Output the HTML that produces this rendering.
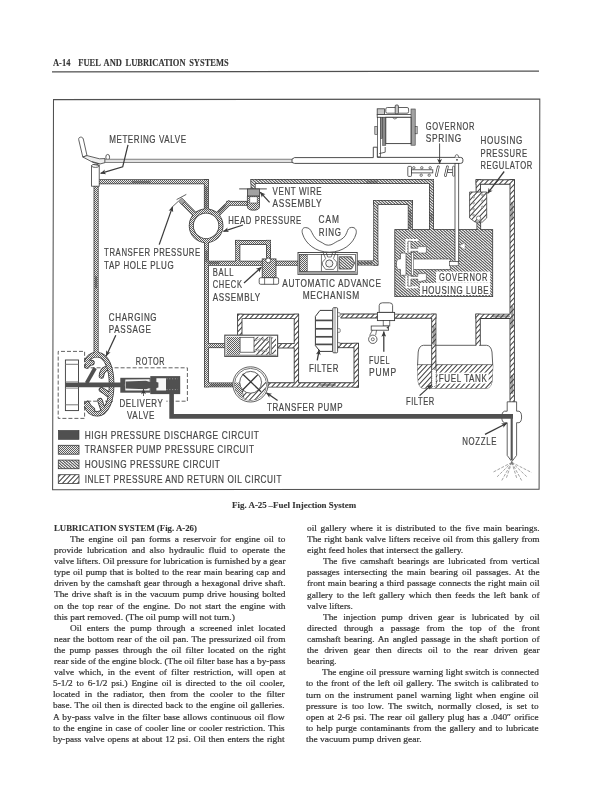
<!DOCTYPE html>
<html lang="en"><head><meta charset="utf-8">
<title>A-14 Fuel and Lubrication Systems</title>
<style>
html,body{margin:0;padding:0;background:#fff;}
body{width:612px;height:792px;position:relative;overflow:hidden;filter:grayscale(1);font-family:"Liberation Serif",serif;color:#343434;}
.t{position:absolute;white-space:pre;-webkit-text-stroke:0.22px #383838;font-size:8.9px;line-height:10px;height:10px;transform-origin:0 50%;}
.j{text-align:justify;text-align-last:justify;white-space:normal;word-spacing:-0.6px;overflow:visible;}
.b{font-weight:bold;-webkit-text-stroke:0.1px #333;}
svg{position:absolute;left:0;top:0;}
svg text{font-family:"Liberation Sans",sans-serif;fill:#464646;stroke:#464646;stroke-width:0.22px;}
</style></head>
<body>
<svg width="612" height="792" viewBox="0 0 612 792">
<defs>
<pattern id="pT" width="2" height="2" patternUnits="userSpaceOnUse"><rect width="2" height="2" fill="#ececec"/><rect x="0" y="0" width="1" height="1" fill="#5e5e5e"/><rect x="1" y="1" width="1" height="1" fill="#5e5e5e"/></pattern>
<pattern id="pH" width="35" height="14" patternUnits="userSpaceOnUse"><rect width="35" height="14" fill="#eeeeee"/><path d="M1,0h1v1h-1zM4,0h1v1h-1zM7,0h1v1h-1zM10,0h1v1h-1zM17,0h1v1h-1zM20,0h1v1h-1zM23,0h1v1h-1zM26,0h1v1h-1zM29,0h1v1h-1zM2,1h1v1h-1zM5,1h1v1h-1zM8,1h1v1h-1zM11,1h1v1h-1zM15,1h1v1h-1zM18,1h1v1h-1zM21,1h1v1h-1zM24,1h1v1h-1zM27,1h1v1h-1zM34,1h1v1h-1zM0,2h1v1h-1zM3,2h1v1h-1zM6,2h1v1h-1zM9,2h1v1h-1zM16,2h1v1h-1zM19,2h1v1h-1zM22,2h1v1h-1zM25,2h1v1h-1zM32,2h1v1h-1zM1,3h1v1h-1zM4,3h1v1h-1zM7,3h1v1h-1zM14,3h1v1h-1zM17,3h1v1h-1zM20,3h1v1h-1zM23,3h1v1h-1zM26,3h1v1h-1zM30,3h1v1h-1zM33,3h1v1h-1zM2,4h1v1h-1zM5,4h1v1h-1zM12,4h1v1h-1zM15,4h1v1h-1zM18,4h1v1h-1zM21,4h1v1h-1zM24,4h1v1h-1zM31,4h1v1h-1zM34,4h1v1h-1zM0,5h1v1h-1zM3,5h1v1h-1zM6,5h1v1h-1zM10,5h1v1h-1zM13,5h1v1h-1zM16,5h1v1h-1zM19,5h1v1h-1zM22,5h1v1h-1zM29,5h1v1h-1zM32,5h1v1h-1zM1,6h1v1h-1zM4,6h1v1h-1zM11,6h1v1h-1zM14,6h1v1h-1zM17,6h1v1h-1zM20,6h1v1h-1zM27,6h1v1h-1zM30,6h1v1h-1zM33,6h1v1h-1zM2,7h1v1h-1zM9,7h1v1h-1zM12,7h1v1h-1zM15,7h1v1h-1zM18,7h1v1h-1zM21,7h1v1h-1zM25,7h1v1h-1zM28,7h1v1h-1zM31,7h1v1h-1zM34,7h1v1h-1zM0,8h1v1h-1zM7,8h1v1h-1zM10,8h1v1h-1zM13,8h1v1h-1zM16,8h1v1h-1zM19,8h1v1h-1zM26,8h1v1h-1zM29,8h1v1h-1zM32,8h1v1h-1zM1,9h1v1h-1zM5,9h1v1h-1zM8,9h1v1h-1zM11,9h1v1h-1zM14,9h1v1h-1zM17,9h1v1h-1zM24,9h1v1h-1zM27,9h1v1h-1zM30,9h1v1h-1zM33,9h1v1h-1zM6,10h1v1h-1zM9,10h1v1h-1zM12,10h1v1h-1zM15,10h1v1h-1zM22,10h1v1h-1zM25,10h1v1h-1zM28,10h1v1h-1zM31,10h1v1h-1zM34,10h1v1h-1zM4,11h1v1h-1zM7,11h1v1h-1zM10,11h1v1h-1zM13,11h1v1h-1zM16,11h1v1h-1zM20,11h1v1h-1zM23,11h1v1h-1zM26,11h1v1h-1zM29,11h1v1h-1zM32,11h1v1h-1zM2,12h1v1h-1zM5,12h1v1h-1zM8,12h1v1h-1zM11,12h1v1h-1zM14,12h1v1h-1zM21,12h1v1h-1zM24,12h1v1h-1zM27,12h1v1h-1zM30,12h1v1h-1zM0,13h1v1h-1zM3,13h1v1h-1zM6,13h1v1h-1zM9,13h1v1h-1zM12,13h1v1h-1zM19,13h1v1h-1zM22,13h1v1h-1zM25,13h1v1h-1zM28,13h1v1h-1zM31,13h1v1h-1z" fill="#616161"/><path d="M13,0h1v1h-1zM14,0h1v1h-1zM16,0h1v1h-1zM30,0h1v1h-1zM32,0h1v1h-1zM33,0h1v1h-1zM12,1h1v1h-1zM14,1h1v1h-1zM28,1h1v1h-1zM30,1h1v1h-1zM31,1h1v1h-1zM10,2h1v1h-1zM12,2h1v1h-1zM13,2h1v1h-1zM28,2h1v1h-1zM29,2h1v1h-1zM31,2h1v1h-1zM8,3h1v1h-1zM10,3h1v1h-1zM11,3h1v1h-1zM27,3h1v1h-1zM29,3h1v1h-1zM8,4h1v1h-1zM9,4h1v1h-1zM11,4h1v1h-1zM25,4h1v1h-1zM27,4h1v1h-1zM28,4h1v1h-1zM7,5h1v1h-1zM9,5h1v1h-1zM23,5h1v1h-1zM25,5h1v1h-1zM26,5h1v1h-1zM5,6h1v1h-1zM7,6h1v1h-1zM8,6h1v1h-1zM23,6h1v1h-1zM24,6h1v1h-1zM26,6h1v1h-1zM3,7h1v1h-1zM5,7h1v1h-1zM6,7h1v1h-1zM22,7h1v1h-1zM24,7h1v1h-1zM3,8h1v1h-1zM4,8h1v1h-1zM6,8h1v1h-1zM20,8h1v1h-1zM22,8h1v1h-1zM23,8h1v1h-1zM2,9h1v1h-1zM4,9h1v1h-1zM18,9h1v1h-1zM20,9h1v1h-1zM21,9h1v1h-1zM0,10h1v1h-1zM2,10h1v1h-1zM3,10h1v1h-1zM18,10h1v1h-1zM19,10h1v1h-1zM21,10h1v1h-1zM0,11h1v1h-1zM1,11h1v1h-1zM17,11h1v1h-1zM19,11h1v1h-1zM33,11h1v1h-1zM1,12h1v1h-1zM15,12h1v1h-1zM17,12h1v1h-1zM18,12h1v1h-1zM33,12h1v1h-1zM34,12h1v1h-1zM13,13h1v1h-1zM15,13h1v1h-1zM16,13h1v1h-1zM32,13h1v1h-1zM34,13h1v1h-1z" fill="#848484"/><path d="M0,0h1v1h-1zM11,0h1v1h-1zM19,0h1v1h-1zM27,0h1v1h-1zM1,1h1v1h-1zM9,1h1v1h-1zM17,1h1v1h-1zM25,1h1v1h-1zM33,1h1v1h-1zM7,2h1v1h-1zM15,2h1v1h-1zM26,2h1v1h-1zM34,2h1v1h-1zM5,3h1v1h-1zM13,3h1v1h-1zM16,3h1v1h-1zM24,3h1v1h-1zM32,3h1v1h-1zM6,4h1v1h-1zM14,4h1v1h-1zM22,4h1v1h-1zM30,4h1v1h-1zM4,5h1v1h-1zM12,5h1v1h-1zM20,5h1v1h-1zM28,5h1v1h-1zM31,5h1v1h-1zM2,6h1v1h-1zM10,6h1v1h-1zM21,6h1v1h-1zM29,6h1v1h-1zM0,7h1v1h-1zM8,7h1v1h-1zM11,7h1v1h-1zM19,7h1v1h-1zM27,7h1v1h-1zM1,8h1v1h-1zM9,8h1v1h-1zM17,8h1v1h-1zM25,8h1v1h-1zM7,9h1v1h-1zM15,9h1v1h-1zM23,9h1v1h-1zM26,9h1v1h-1zM34,9h1v1h-1zM5,10h1v1h-1zM16,10h1v1h-1zM24,10h1v1h-1zM32,10h1v1h-1zM3,11h1v1h-1zM6,11h1v1h-1zM14,11h1v1h-1zM22,11h1v1h-1zM30,11h1v1h-1zM4,12h1v1h-1zM12,12h1v1h-1zM20,12h1v1h-1zM31,12h1v1h-1zM2,13h1v1h-1zM10,13h1v1h-1zM18,13h1v1h-1zM21,13h1v1h-1zM29,13h1v1h-1z" fill="#a7a7a7"/><path d="M3,0h1v1h-1zM5,0h1v1h-1zM6,0h1v1h-1zM8,0h1v1h-1zM21,0h1v1h-1zM22,0h1v1h-1zM24,0h1v1h-1zM25,0h1v1h-1zM3,1h1v1h-1zM4,1h1v1h-1zM6,1h1v1h-1zM19,1h1v1h-1zM20,1h1v1h-1zM22,1h1v1h-1zM23,1h1v1h-1zM1,2h1v1h-1zM2,2h1v1h-1zM4,2h1v1h-1zM5,2h1v1h-1zM18,2h1v1h-1zM20,2h1v1h-1zM21,2h1v1h-1zM23,2h1v1h-1zM0,3h1v1h-1zM2,3h1v1h-1zM3,3h1v1h-1zM18,3h1v1h-1zM19,3h1v1h-1zM21,3h1v1h-1zM34,3h1v1h-1zM0,4h1v1h-1zM1,4h1v1h-1zM3,4h1v1h-1zM16,4h1v1h-1zM17,4h1v1h-1zM19,4h1v1h-1zM20,4h1v1h-1zM33,4h1v1h-1zM1,5h1v1h-1zM14,5h1v1h-1zM15,5h1v1h-1zM17,5h1v1h-1zM18,5h1v1h-1zM33,5h1v1h-1zM34,5h1v1h-1zM0,6h1v1h-1zM13,6h1v1h-1zM15,6h1v1h-1zM16,6h1v1h-1zM18,6h1v1h-1zM31,6h1v1h-1zM32,6h1v1h-1zM34,6h1v1h-1zM13,7h1v1h-1zM14,7h1v1h-1zM16,7h1v1h-1zM29,7h1v1h-1zM30,7h1v1h-1zM32,7h1v1h-1zM33,7h1v1h-1zM11,8h1v1h-1zM12,8h1v1h-1zM14,8h1v1h-1zM15,8h1v1h-1zM28,8h1v1h-1zM30,8h1v1h-1zM31,8h1v1h-1zM33,8h1v1h-1zM9,9h1v1h-1zM10,9h1v1h-1zM12,9h1v1h-1zM13,9h1v1h-1zM28,9h1v1h-1zM29,9h1v1h-1zM31,9h1v1h-1zM8,10h1v1h-1zM10,10h1v1h-1zM11,10h1v1h-1zM13,10h1v1h-1zM26,10h1v1h-1zM27,10h1v1h-1zM29,10h1v1h-1zM30,10h1v1h-1zM8,11h1v1h-1zM9,11h1v1h-1zM11,11h1v1h-1zM24,11h1v1h-1zM25,11h1v1h-1zM27,11h1v1h-1zM28,11h1v1h-1zM6,12h1v1h-1zM7,12h1v1h-1zM9,12h1v1h-1zM10,12h1v1h-1zM23,12h1v1h-1zM25,12h1v1h-1zM26,12h1v1h-1zM28,12h1v1h-1zM4,13h1v1h-1zM5,13h1v1h-1zM7,13h1v1h-1zM8,13h1v1h-1zM23,13h1v1h-1zM24,13h1v1h-1zM26,13h1v1h-1z" fill="#cacaca"/></pattern>
<pattern id="pI" width="25" height="27" patternUnits="userSpaceOnUse"><rect width="25" height="27" fill="#fff"/><path d="M-30,32.4 L5,-5.4 M-25,32.4 L10,-5.4 M-20,32.4 L15,-5.4 M-15,32.4 L20,-5.4 M-10,32.4 L25,-5.4 M-5,32.4 L30,-5.4 M0,32.4 L35,-5.4 M5,32.4 L40,-5.4 M10,32.4 L45,-5.4 M15,32.4 L50,-5.4 M20,32.4 L55,-5.4 M25,32.4 L60,-5.4 M30,32.4 L65,-5.4" stroke="#444" stroke-width="1.05" fill="none"/></pattern>
<marker id="ah" viewBox="0 0 10 10" refX="9.5" refY="5" markerWidth="7" markerHeight="5.4" orient="auto" markerUnits="userSpaceOnUse"><path d="M0,0.5 L10,5 L0,9.5 L2.5,5 Z" fill="#3a3a3a"/></marker>
</defs>
<g id="bg">
<path d="M52,71.9 L539,71.1" stroke="#505050" stroke-width="1.2" fill="none"/>
<path d="M53.5,99.6 L539.8,99.1 L539.1,489.2 L52.6,489.7 Z" fill="none" stroke="#505050" stroke-width="1.05"/>
</g>
<g id="block">
<rect x="394.8" y="229.6" width="97.9" height="67" fill="url(#pH)" stroke="#3a3a3a" stroke-width="0.8" />
<path d="M400.5,253.1 L406,253.1 L406,275.3 L400.5,275.3 L400.5,269.4 L397.6,269.4 L396.5,266 L396.5,262 L397.6,259 L400.5,259 Z" fill="#fff" stroke="#3a3a3a" stroke-width="0.6" />
<rect x="412.2" y="259" width="38" height="10.4" fill="#fff" stroke="#3a3a3a" stroke-width="0.6" />
<rect x="411.4" y="252.6" width="2.2" height="22.7" fill="#fff" stroke="#3a3a3a" stroke-width="0.5" />
<path d="M418.2,240 L406.4,240 L406.4,253" fill="none" stroke="#fff" stroke-width="2" />
<path d="M408.1,241.2 L410.9,241.2 L410.9,248.3 L417.8,248.3 L417.8,246.6 L426.4,246.6 L426.4,253 L417.8,253 L417.8,251.3 L410.9,251.3 L410.9,253.1 L408.1,253.1 Z" fill="#fff" stroke="#3a3a3a" stroke-width="0.5" />
<path d="M418.2,287.2 L406.4,287.2 L406.4,275.4" fill="none" stroke="#fff" stroke-width="2" />
<path d="M408.1,286.2 L410.9,286.2 L410.9,279.1 L417.8,279.1 L417.8,281.8 L426.4,280.2 L426.4,273.6 L417.8,273.6 L417.8,276.4 L410.9,276.4 L410.9,275.3 L408.1,275.3 Z" fill="#fff" stroke="#3a3a3a" stroke-width="0.5" />
<rect x="436" y="271.6" width="54.2" height="11.2" fill="#fff" stroke="#3a3a3a" stroke-width="0" />
<rect x="420" y="283" width="70.2" height="12" fill="#fff" stroke="#3a3a3a" stroke-width="0" />
<path d="M423.5,345.3 L486.5,345.3 Q491,345.6 492,352 Q493.6,366 492,381.5 Q491,388 486.5,388.2 L423.5,388.2 Q419,388 418.2,381.5 Q416.8,366 418.2,352 Q419,345.6 423.5,345.3 Z" fill="#fff" stroke="#3a3a3a" stroke-width="0.8" />
<clipPath id="cpF"><path d="M423.5,345.3 L486.5,345.3 Q491,345.6 492,352 Q493.6,366 492,381.5 Q491,388 486.5,388.2 L423.5,388.2 Q419,388 418.2,381.5 Q416.8,366 418.2,352 Q419,345.6 423.5,345.3 Z"/></clipPath>
<g clip-path="url(#cpF)"><rect x="417" y="364.6" width="77" height="24" fill="url(#pI)"/></g>
<path d="M417.5,364.6 L493,364.6" fill="none" stroke="#3a3a3a" stroke-width="0.6" />
<rect x="437.5" y="372.6" width="51.1" height="11" fill="#fff" stroke="#3a3a3a" stroke-width="0" />
<rect x="65.4" y="360" width="13.1" height="50.6" fill="#fff" stroke="#3a3a3a" stroke-width="0.9" />
<path d="M65.4,364.3 L78.5,364.3 M65.4,404.8 L78.5,404.8" fill="none" stroke="#777" stroke-width="1" />
<path d="M65.4,381.6 L78.5,381.6 M65.4,388.4 L78.5,388.4" fill="none" stroke="#777" stroke-width="0.6" />
<path d="M84.6,367.8 L84.6,351.4 L58.2,351.4 L58.2,418.4 L84.6,418.4 L84.6,401.2 L113,401.2" fill="none" stroke="#505050" stroke-width="0.9" stroke-dasharray="4 2"/>
<path d="M84.6,367.8 L187.4,367.8 L187.4,401.2 L166.4,401.2" fill="none" stroke="#505050" stroke-width="0.9" stroke-dasharray="4 2"/>
</g>
<g id="pout">
<polygon points="98.6,356 98.6,179.3 93.6,179.3 93.6,356" fill="#3a3a3a"/>
<polygon points="93.6,184.3 208.9,184.3 208.9,179.3 93.6,179.3" fill="#3a3a3a"/>
<polygon points="203.9,179.3 203.9,209.5 208.9,209.5 208.9,179.3" fill="#3a3a3a"/>
<circle cx="206.1" cy="225.8" r="14.85" fill="none" stroke="#3a3a3a" stroke-width="5.0"/>
<polygon points="204.05,241.5 204.05,387.35 208.95,387.35 208.95,241.5" fill="#3a3a3a"/>
<polygon points="204.05,387.35 236.5,387.35 236.5,382.45 204.05,382.45" fill="#3a3a3a"/>
<polygon points="206.5,265.7 262.5,265.7 262.5,260.7 206.5,260.7" fill="#3a3a3a"/>
<polygon points="275.8,265.7 299.2,265.7 299.2,260.7 275.8,260.7" fill="#3a3a3a"/>
<polygon points="240.3,263.2 240.3,239.9 235.3,239.9 235.3,263.2" fill="#3a3a3a"/>
<polygon points="235.3,244.9 271,244.9 271,239.9 235.3,239.9" fill="#3a3a3a"/>
<polygon points="266,239.9 266,258.6 271,258.6 271,239.9" fill="#3a3a3a"/>
<polygon points="206.5,348.1 225,348.1 225,343.1 206.5,343.1" fill="#3a3a3a"/>
<polygon points="197.07,213.03 183.57,199.53 180.03,203.07 193.53,216.57" fill="#3a3a3a"/>
<polygon points="218.88,216.41 232.19,203.33 228.83,199.91 215.52,212.99" fill="#3a3a3a"/>
<polygon points="226.4,205.7 248.2,205.7 248.2,200.9 226.4,200.9" fill="#3a3a3a"/>
<polygon points="255.6,189.2 255.6,179.1 250.6,179.1 250.6,189.2" fill="#3a3a3a"/>
<polygon points="250.6,184.1 434,184.1 434,179.1 250.6,179.1" fill="#3a3a3a"/>
<polygon points="429,179.1 429,230 434,230 434,179.1" fill="#3a3a3a"/>
<polygon points="357,265.5 378.3,265.5 378.3,260.5 357,260.5" fill="#3a3a3a"/>
<polygon points="378.3,265.5 378.3,200.1 373.3,200.1 373.3,265.5" fill="#3a3a3a"/>
<polygon points="373.3,205.1 412.8,205.1 412.8,200.1 373.3,200.1" fill="#3a3a3a"/>
<polygon points="407.8,200.1 407.8,230 412.8,230 412.8,200.1" fill="#3a3a3a"/>
<polygon points="476.5,221.5 476.5,230 481.1,230 481.1,221.5" fill="#3a3a3a"/>
<polygon points="242.45,335.4 242.45,313.75 237.15,313.75 237.15,335.4" fill="#3a3a3a"/>
<polygon points="237.15,319.05 299.05,319.05 299.05,313.75 237.15,313.75" fill="#3a3a3a"/>
<polygon points="293.75,313.75 293.75,384.9 299.05,384.9 299.05,313.75" fill="#3a3a3a"/>
<polygon points="277.5,348.45 296.4,348.45 296.4,343.15 277.5,343.15" fill="#3a3a3a"/>
<polygon points="266,387.55 358.85,387.55 358.85,382.25 266,382.25" fill="#3a3a3a"/>
<polygon points="358.85,387.55 358.85,342.85 353.55,342.85 353.55,387.55" fill="#3a3a3a"/>
<polygon points="358.85,342.85 338,342.85 338,348.15 358.85,348.15" fill="#3a3a3a"/>
<polygon points="340.5,318.45 377.5,318.45 377.5,313.55 340.5,313.55" fill="#3a3a3a"/>
<polygon points="394.5,318.75 436.35,318.75 436.35,313.65 394.5,313.65" fill="#3a3a3a"/>
<polygon points="431.25,313.65 431.25,386 436.35,386 436.35,313.65" fill="#3a3a3a"/>
<polygon points="480.95,192.5 480.95,179.35 475.65,179.35 475.65,192.5" fill="#3a3a3a"/>
<polygon points="475.65,184.65 514.85,184.65 514.85,179.35 475.65,179.35" fill="#3a3a3a"/>
<polygon points="509.55,179.35 509.55,402 514.85,402 514.85,179.35" fill="#3a3a3a"/>
<polygon points="480.75,345.4 480.75,313.65 475.45,313.65 475.45,345.4" fill="#3a3a3a"/>
<polygon points="475.45,318.95 512.2,318.95 512.2,313.65 475.45,313.65" fill="#3a3a3a"/>
<path d="M86.6,362.6 C88.4,356 93,354.6 97.6,354.8 C106.6,355.2 111.6,368.4 111.6,384.4 C111.6,400.4 106.6,413.4 97.6,413.8 C92,414 87.8,410.6 86.6,405.4" fill="none" stroke="#3a3a3a" stroke-width="5.6" stroke-linecap="butt"/>
<path d="M105.4,368.8 C102.8,370.2 101.6,372.8 101.4,376" fill="none" stroke="#3a3a3a" stroke-width="5.4" stroke-linecap="round"/>
<path d="M101.4,389.6 C103.2,390.6 105.6,392 107.6,394" fill="none" stroke="#3a3a3a" stroke-width="5.4" stroke-linecap="round"/>
<path d="M100,400.6 C100.8,403.2 101.8,405.8 102.6,408.4" fill="none" stroke="#3a3a3a" stroke-width="5.4" stroke-linecap="round"/>
<path d="M87.2,366 C88.6,363.6 90.4,362.6 92,362.8" fill="none" stroke="#3a3a3a" stroke-width="5.4" stroke-linecap="round"/>
<path d="M87.2,403.4 C88.4,406.4 90.2,408.4 92.4,409.6" fill="none" stroke="#3a3a3a" stroke-width="5.4" stroke-linecap="round"/>
</g>
<g id="pfill">
<polygon points="97.85,356.6 97.85,180.05 94.35,180.05 94.35,356.6" fill="url(#pT)"/>
<polygon points="94.35,183.55 208.15,183.55 208.15,180.05 94.35,180.05" fill="url(#pT)"/>
<polygon points="204.65,180.05 204.65,210.1 208.15,210.1 208.15,180.05" fill="url(#pT)"/>
<circle cx="206.1" cy="225.8" r="14.85" fill="none" stroke="url(#pT)" stroke-width="3.5"/>
<polygon points="204.8,240.9 204.8,386.6 208.2,386.6 208.2,240.9" fill="url(#pT)"/>
<polygon points="204.8,386.6 237.1,386.6 237.1,383.2 204.8,383.2" fill="url(#pT)"/>
<polygon points="205.9,264.95 263.1,264.95 263.1,261.45 205.9,261.45" fill="url(#pT)"/>
<polygon points="275.2,264.95 299.8,264.95 299.8,261.45 275.2,261.45" fill="url(#pT)"/>
<polygon points="239.55,263.8 239.55,240.65 236.05,240.65 236.05,263.8" fill="url(#pT)"/>
<polygon points="236.05,244.15 270.25,244.15 270.25,240.65 236.05,240.65" fill="url(#pT)"/>
<polygon points="266.75,240.65 266.75,259.2 270.25,259.2 270.25,240.65" fill="url(#pT)"/>
<polygon points="205.9,347.35 225.6,347.35 225.6,343.85 205.9,343.85" fill="url(#pT)"/>
<polygon points="196.96,213.99 183.57,200.59 181.09,203.07 194.49,216.46" fill="url(#pT)"/>
<polygon points="217.93,216.3 231.13,203.32 228.82,200.97 215.62,213.94" fill="url(#pT)"/>
<polygon points="227.15,204.95 248.8,204.95 248.8,201.65 227.15,201.65" fill="url(#pT)"/>
<polygon points="254.85,189.8 254.85,179.85 251.35,179.85 251.35,189.8" fill="url(#pH)"/>
<polygon points="251.35,183.35 433.25,183.35 433.25,179.85 251.35,179.85" fill="url(#pH)"/>
<polygon points="429.75,179.85 429.75,230.6 433.25,230.6 433.25,179.85" fill="url(#pH)"/>
<polygon points="356.4,264.75 377.55,264.75 377.55,261.25 356.4,261.25" fill="url(#pH)"/>
<polygon points="377.55,264.75 377.55,200.85 374.05,200.85 374.05,264.75" fill="url(#pH)"/>
<polygon points="374.05,204.35 412.05,204.35 412.05,200.85 374.05,200.85" fill="url(#pH)"/>
<polygon points="408.55,200.85 408.55,230.6 412.05,230.6 412.05,200.85" fill="url(#pH)"/>
<polygon points="477.25,220.9 477.25,230.6 480.35,230.6 480.35,220.9" fill="url(#pH)"/>
<polygon points="241.55,336 241.55,314.65 238.05,314.65 238.05,336" fill="url(#pI)"/>
<polygon points="238.05,318.15 298.15,318.15 298.15,314.65 238.05,314.65" fill="url(#pI)"/>
<polygon points="294.65,314.65 294.65,385.5 298.15,385.5 298.15,314.65" fill="url(#pI)"/>
<polygon points="276.9,347.55 297,347.55 297,344.05 276.9,344.05" fill="url(#pI)"/>
<polygon points="265.4,386.65 357.95,386.65 357.95,383.15 265.4,383.15" fill="url(#pI)"/>
<polygon points="357.95,386.65 357.95,343.75 354.45,343.75 354.45,386.65" fill="url(#pI)"/>
<polygon points="357.95,343.75 337.4,343.75 337.4,347.25 357.95,347.25" fill="url(#pI)"/>
<polygon points="339.9,317.55 378.1,317.55 378.1,314.45 339.9,314.45" fill="url(#pI)"/>
<polygon points="393.9,317.85 435.45,317.85 435.45,314.55 393.9,314.55" fill="url(#pI)"/>
<polygon points="432.15,314.55 432.15,386.6 435.45,386.6 435.45,314.55" fill="url(#pI)"/>
<polygon points="480.05,193.1 480.05,180.25 476.55,180.25 476.55,193.1" fill="url(#pI)"/>
<polygon points="476.55,183.75 513.95,183.75 513.95,180.25 476.55,180.25" fill="url(#pI)"/>
<polygon points="510.45,180.25 510.45,402.6 513.95,402.6 513.95,180.25" fill="url(#pI)"/>
<polygon points="479.85,346 479.85,314.55 476.35,314.55 476.35,346" fill="url(#pI)"/>
<polygon points="476.35,318.05 512.8,318.05 512.8,314.55 476.35,314.55" fill="url(#pI)"/>
<path d="M132.5,181.8 L149.5,181.8" stroke="#3c3c3c" stroke-width="2.2" stroke-opacity="0.5" fill="none" stroke-linecap="round"/>
<path d="M206.4,187 L206.4,208.5" stroke="#3c3c3c" stroke-width="2.2" stroke-opacity="0.5" fill="none" stroke-linecap="round"/>
<path d="M218.8,211.6 L225,205.4" stroke="#3c3c3c" stroke-width="2.2" stroke-opacity="0.5" fill="none" stroke-linecap="round"/>
<path d="M206.5,251 L206.5,261.5" stroke="#3c3c3c" stroke-width="2.2" stroke-opacity="0.5" fill="none" stroke-linecap="round"/>
<path d="M208.5,263.2 L218.6,263.2" stroke="#3c3c3c" stroke-width="2.2" stroke-opacity="0.5" fill="none" stroke-linecap="round"/>
<path d="M96.1,277 L96.1,287.6" stroke="#3c3c3c" stroke-width="2.2" stroke-opacity="0.5" fill="none" stroke-linecap="round"/>
<path d="M211,384.9 L235.5,384.9" stroke="#3c3c3c" stroke-width="2.2" stroke-opacity="0.5" fill="none" stroke-linecap="round"/>
<path d="M367.2,181.6 L377,181.6" stroke="#3c3c3c" stroke-width="2.2" stroke-opacity="0.5" fill="none" stroke-linecap="round"/>
<path d="M410.3,210.8 L410.3,228" stroke="#3c3c3c" stroke-width="2.2" stroke-opacity="0.5" fill="none" stroke-linecap="round"/>
<path d="M431.5,214 L431.5,220.6" stroke="#3c3c3c" stroke-width="2.2" stroke-opacity="0.5" fill="none" stroke-linecap="round"/>
<path d="M358.6,263 L371.6,263" stroke="#3c3c3c" stroke-width="2.2" stroke-opacity="0.5" fill="none" stroke-linecap="round"/>
<path d="M512.2,202.8 L512.2,219" stroke="#3c3c3c" stroke-width="2.2" stroke-opacity="0.5" fill="none" stroke-linecap="round"/>
<path d="M433.8,327 L433.8,344" stroke="#3c3c3c" stroke-width="2.2" stroke-opacity="0.5" fill="none" stroke-linecap="round"/>
<path d="M512.2,376 L512.2,393" stroke="#3c3c3c" stroke-width="2.2" stroke-opacity="0.5" fill="none" stroke-linecap="round"/>
<path d="M512.2,307 L512.2,327" stroke="#3c3c3c" stroke-width="2.2" stroke-opacity="0.5" fill="none" stroke-linecap="round"/>
<path d="M493,316.3 L509,316.3" stroke="#3c3c3c" stroke-width="2.2" stroke-opacity="0.5" fill="none" stroke-linecap="round"/>
<path d="M320.5,384.9 L334.8,384.9" stroke="#3c3c3c" stroke-width="2.2" stroke-opacity="0.5" fill="none" stroke-linecap="round"/>
<path d="M86.6,362.6 C88.4,356 93,354.6 97.6,354.8 C106.6,355.2 111.6,368.4 111.6,384.4 C111.6,400.4 106.6,413.4 97.6,413.8 C92,414 87.8,410.6 86.6,405.4" fill="none" stroke="url(#pT)" stroke-width="4" stroke-linecap="round"/>
<path d="M105.4,368.8 C102.8,370.2 101.6,372.8 101.4,376" fill="none" stroke="url(#pT)" stroke-width="3.8" stroke-linecap="round"/>
<path d="M101.4,389.6 C103.2,390.6 105.6,392 107.6,394" fill="none" stroke="url(#pT)" stroke-width="3.8" stroke-linecap="round"/>
<path d="M100,400.6 C100.8,403.2 101.8,405.8 102.6,408.4" fill="none" stroke="url(#pT)" stroke-width="3.8" stroke-linecap="round"/>
<path d="M87.2,366 C88.6,363.6 90.4,362.6 92,362.8" fill="none" stroke="url(#pT)" stroke-width="3.8" stroke-linecap="round"/>
<path d="M87.2,403.4 C88.4,406.4 90.2,408.4 92.4,409.6" fill="none" stroke="url(#pT)" stroke-width="3.8" stroke-linecap="round"/>
</g>
<g id="comp">
<path d="M65.3,384.9 L121,384.9" fill="none" stroke="#505050" stroke-width="4.8" />
<path d="M95.1,368 L86.6,383.1" fill="none" stroke="#505050" stroke-width="3.8" />
<rect x="91.6" y="165.6" width="7.6" height="20.6" fill="#fff" stroke="#3a3a3a" stroke-width="0.8" />
<ellipse cx="95.4" cy="165.8" rx="3.8" ry="1.6" fill="#fff" stroke="#3a3a3a" stroke-width="0.8" />
<path d="M78.7,139.6 C78.2,136.6 82.6,136.2 83.3,139 L87,155.6 L82.8,157 Z" fill="#fff" stroke="#3a3a3a" stroke-width="0.8" />
<path d="M82.8,157 L87,155.6 L99.5,158.8 L105,158.6 L105,162.6 L100,164 L93,162.4 Z" fill="#eee" stroke="#3a3a3a" stroke-width="0.8" />
<path d="M92,161.5 L99.5,163.8 M93.5,164.5 L99,165.6" fill="none" stroke="#3a3a3a" stroke-width="0.7" />
<ellipse cx="107.7" cy="157.2" rx="1.9" ry="2.8" fill="#fff" stroke="#3a3a3a" stroke-width="0.8" />
<rect x="105" y="159.2" width="187.5" height="3.2" fill="#e2e2e2" stroke="#666" stroke-width="0.8" />
<path d="M292,159.2 L294.5,157.6 L373.3,157.6 L373.3,147.2 L377.3,147.2 L377.3,157.4 L460.5,157.4 Q462.9,157.4 462.9,159.6 L462.9,161.2 Q462.9,163.4 460.5,163.4 L294.5,163.4 L292,162.4 Z" fill="#fff" stroke="#3a3a3a" stroke-width="0.9" />
<circle cx="457" cy="159.8" r="0.9" fill="#3a3a3a" stroke="#3a3a3a" stroke-width="0" />
<path d="M455,157.4 Q455,154.6 456.8,154.6 Q458.6,154.6 458.6,157.4" fill="#fff" stroke="#3a3a3a" stroke-width="0.7" />
<rect x="385.8" y="107.5" width="22.8" height="5.7" fill="#fff" stroke="#3a3a3a" stroke-width="0.8" rx="1.5" />
<rect x="395.2" y="105" width="3.2" height="8.8" fill="#c8c8c8" stroke="#3a3a3a" stroke-width="0.8" rx="1" />
<rect x="377.2" y="108.8" width="7.2" height="6" fill="#c8c8c8" stroke="#3a3a3a" stroke-width="0.8" />
<rect x="377.2" y="114.6" width="36" height="2.7" fill="#fff" stroke="#3a3a3a" stroke-width="0.8" />
<rect x="411" y="109" width="4.2" height="36.2" fill="#a2a2a2" stroke="#3a3a3a" stroke-width="0.6" />
<rect x="415.2" y="126.4" width="2" height="7.4" fill="#c8c8c8" stroke="#3a3a3a" stroke-width="0.6" />
<rect x="374.8" y="126.4" width="2.8" height="8" fill="#c8c8c8" stroke="#3a3a3a" stroke-width="0.6" />
<rect x="377.6" y="117.3" width="2.8" height="39.5" fill="#fff" stroke="#3a3a3a" stroke-width="0.7" />
<rect x="380.4" y="117.3" width="2.2" height="21.2" fill="#8a8a8a" stroke="#3a3a3a" stroke-width="0.5" />
<rect x="382.6" y="117.3" width="3.2" height="28.1" fill="#8a8a8a" stroke="#3a3a3a" stroke-width="0.5" />
<rect x="385.8" y="117.3" width="25.2" height="26.3" fill="#fff" stroke="#3a3a3a" stroke-width="0.9" />
<path d="M392.5,117.6 Q394.8,120.6 397.4,117.6" fill="none" stroke="#3a3a3a" stroke-width="0.7" />
<path d="M385.2,147 L385.2,152.2 L379.2,153.6" fill="none" stroke="#3a3a3a" stroke-width="0.8" />
<rect x="407.8" y="166.4" width="3.7" height="10" fill="#fff" stroke="#3a3a3a" stroke-width="0.8" rx="0.8" />
<rect x="411.5" y="169.8" width="21.3" height="3.1" fill="#fff" stroke="#3a3a3a" stroke-width="0.8" />
<circle cx="413.8" cy="167.8" r="1.2" fill="#fff" stroke="#3a3a3a" stroke-width="0.7" />
<circle cx="421.8" cy="167.8" r="1.2" fill="#fff" stroke="#3a3a3a" stroke-width="0.7" />
<circle cx="430.2" cy="167.8" r="1.2" fill="#fff" stroke="#3a3a3a" stroke-width="0.7" />
<circle cx="421.2" cy="175.2" r="1.2" fill="#fff" stroke="#3a3a3a" stroke-width="0.7" />
<circle cx="429.2" cy="175.2" r="1.2" fill="#fff" stroke="#3a3a3a" stroke-width="0.7" />
<path d="M438.3,166.8 L436.3,175.6" fill="none" stroke="#3a3a3a" stroke-width="2.6" stroke-linecap="round"/>
<path d="M438.3,166.8 L436.3,175.6" fill="none" stroke="#fff" stroke-width="1.2" stroke-linecap="round"/>
<path d="M447.4,166.8 L445.4,175.6" fill="none" stroke="#3a3a3a" stroke-width="2.6" stroke-linecap="round"/>
<path d="M447.4,166.8 L445.4,175.6" fill="none" stroke="#fff" stroke-width="1.2" stroke-linecap="round"/>
<rect x="447.6" y="169.8" width="5.8" height="2.6" fill="#fff" stroke="#3a3a3a" stroke-width="0.8" />
<rect x="452.6" y="166.2" width="2.2" height="10" fill="#fff" stroke="#3a3a3a" stroke-width="0.7" rx="0.8" />
<path d="M176.6,199.6 L186.3,194.4" fill="none" stroke="#3a3a3a" stroke-width="0.8" />
<path d="M305.8,227.6 C302.4,227.2 301.4,230.6 302.6,234 C305.5,243.6 315.5,252.2 329.3,252.2 C343,252.2 353.4,243.6 356,234 C357,230.4 355.6,227.2 351.6,227.4 C348.2,227.6 347.8,229.8 346.8,232.6 C345.2,237.4 341.6,239.6 337.6,241.2 C334,242.8 332.4,245.2 328.4,245.2 C324.4,245.2 323.6,243 320,241.6 C315.6,239.8 313.8,236.4 311.8,232.4 C310.4,229.4 309.2,227.8 305.8,227.6 Z" fill="#fff" stroke="#3a3a3a" stroke-width="0.8" />
<path d="M320,310.4 L332.8,310.4 L332.8,351.4 L320,351.4 L315.4,345.6 L315.4,316.4 Z" fill="#fff" stroke="#3a3a3a" stroke-width="1" />
<path d="M315.6,320.4 L332.8,320.4" fill="none" stroke="#4a4a4a" stroke-width="1.7" />
<path d="M315.6,328.8 L332.8,328.8" fill="none" stroke="#4a4a4a" stroke-width="1.7" />
<path d="M315.6,336.8 L332.8,336.8" fill="none" stroke="#4a4a4a" stroke-width="1.7" />
<path d="M315.6,344.4 L332.8,344.4" fill="none" stroke="#4a4a4a" stroke-width="1.7" />
<rect x="332.8" y="307.7" width="4.8" height="45.1" fill="#fff" stroke="#3a3a3a" stroke-width="0.9" rx="1" />
<path d="M335,308 L335,352.6" fill="none" stroke="#3a3a3a" stroke-width="0.6" />
<rect x="337.6" y="312.7" width="2.6" height="3.6" fill="#fff" stroke="#3a3a3a" stroke-width="0.6" rx="0.8" />
<rect x="337.6" y="328.7" width="2.6" height="3.6" fill="#fff" stroke="#3a3a3a" stroke-width="0.6" rx="0.8" />
<rect x="337.6" y="342.7" width="2.6" height="3.6" fill="#fff" stroke="#3a3a3a" stroke-width="0.6" rx="0.8" />
<path d="M507.2,401.8 L516.6,401.8 L516.6,411.2 L519,411.2 Q521.6,412 521.6,417 Q521.6,422 519,422.7 L516.6,422.7 L516.6,455.4 L511.8,461.6 L507.2,455.4 L507.2,422.7 L504.4,422.7 Q501.8,422 501.8,417 Q501.8,412 504.4,411.2 L507.2,411.2 Z" fill="#fff" stroke="#3a3a3a" stroke-width="0.8" />
<path d="M511.8,462.4 L492.4,472.5" fill="none" stroke="#666" stroke-width="0.6" stroke-dasharray="3 1.4"/>
<path d="M511.8,462.4 L496.5,477.4" fill="none" stroke="#666" stroke-width="0.6" stroke-dasharray="3 1.4"/>
<path d="M511.8,462.4 L501.6,480.8" fill="none" stroke="#666" stroke-width="0.6" stroke-dasharray="3 1.4"/>
<path d="M511.8,462.4 L521.8,480.8" fill="none" stroke="#666" stroke-width="0.6" stroke-dasharray="3 1.4"/>
<path d="M511.8,462.4 L526.7,476.6" fill="none" stroke="#666" stroke-width="0.6" stroke-dasharray="3 1.4"/>
<path d="M511.8,462.4 L531.6,472.5" fill="none" stroke="#666" stroke-width="0.6" stroke-dasharray="3 1.4"/>
<path d="M511.8,462.4 L506,479" fill="none" stroke="#666" stroke-width="0.6" stroke-dasharray="3 1.4"/>
<path d="M511.8,462.4 L517,479" fill="none" stroke="#666" stroke-width="0.6" stroke-dasharray="3 1.4"/>
<rect x="58.3" y="430.4" width="20.7" height="9" fill="#505050" stroke="#3a3a3a" stroke-width="0.6" />
<rect x="58.3" y="445.3" width="20.7" height="8.9" fill="url(#pT)" stroke="#3a3a3a" stroke-width="0.8" />
<rect x="58.3" y="460.1" width="20.7" height="8.6" fill="url(#pH)" stroke="#3a3a3a" stroke-width="0.8" />
<rect x="58.3" y="474.7" width="20.7" height="8.7" fill="url(#pI)" stroke="#3a3a3a" stroke-width="0.8" />
</g>
<g id="top">
<path d="M171.6,393.5 L171.6,416.4 L513,416.4" fill="none" stroke="#505050" stroke-width="4.6" />
<path d="M511.7,416 L511.7,460" fill="none" stroke="#555" stroke-width="2.1" />
<rect x="455" y="163.4" width="3.7" height="98.4" fill="#fff" stroke="#3a3a3a" stroke-width="0.8" />
<path d="M239.2,188.9 L266.8,188.9" fill="none" stroke="#3a3a3a" stroke-width="0.9" />
<path d="M247.4,195.9 L247.4,206.5 Q247.4,210.2 253.4,210.2 Q259.5,210.2 259.5,206.5 L259.5,195.9 Z" fill="url(#pT)" stroke="#3a3a3a" stroke-width="0.8" />
<rect x="247.4" y="189" width="12.1" height="7" fill="#a2a2a2" stroke="#3a3a3a" stroke-width="0.8" />
<rect x="249.8" y="196.8" width="7.4" height="6.2" fill="#fff" stroke="#3a3a3a" stroke-width="0.6" />
<path d="M178.3,201.2 L181.8,197.8 L185.2,201.2 L181.8,204.7 Z" fill="#a2a2a2" stroke="#3a3a3a" stroke-width="0.5" />
<rect x="262.2" y="258.9" width="13.8" height="18.5" fill="url(#pT)" stroke="#3a3a3a" stroke-width="0.8" />
<circle cx="268.2" cy="260.4" r="2.4" fill="#fff" stroke="#3a3a3a" stroke-width="0.7" />
<rect x="259.2" y="277.7" width="19.4" height="6.6" fill="#fff" stroke="#3a3a3a" stroke-width="0.8" rx="1.5" />
<path d="M264.6,277.7 L264.6,284.3 M273.6,277.7 L273.6,284.3" fill="none" stroke="#3a3a3a" stroke-width="0.7" />
<rect x="298" y="252.5" width="59.2" height="22" fill="#fff" stroke="#3a3a3a" stroke-width="0.9" />
<rect x="298.4" y="271.9" width="58.4" height="2.4" fill="#a2a2a2" stroke="#3a3a3a" stroke-width="0" />
<rect x="299.6" y="254.6" width="56" height="17" fill="#fff" stroke="#3a3a3a" stroke-width="0.7" />
<rect x="299.8" y="254.8" width="7.4" height="16.6" fill="url(#pT)" stroke="#3a3a3a" stroke-width="0.6" />
<rect x="321.3" y="254.6" width="16.5" height="17" fill="#fff" stroke="#3a3a3a" stroke-width="0.7" />
<path d="M323.2,252.8 L325.6,258.6 L322.4,262.2 L322.4,265 L325.6,269.4 L333.6,269.4 L336.8,265 L336.8,262.2 L333.4,258.6 L335.6,252.8" fill="none" stroke="#3a3a3a" stroke-width="0.7" />
<path d="M326.4,252.8 L327.6,257 L331.2,257 L332.6,252.8" fill="none" stroke="#3a3a3a" stroke-width="0.7" />
<circle cx="329.3" cy="263.5" r="3.6" fill="#f4f4f4" stroke="#3a3a3a" stroke-width="0.8" />
<path d="M339.2,256.8 L351.5,256.8 L354.6,263 L351.5,269 L339.2,269 Z" fill="url(#pH)" stroke="#3a3a3a" stroke-width="0.8" />
<rect x="449.6" y="261.6" width="8.6" height="4.2" fill="#fff" stroke="#3a3a3a" stroke-width="0.6" />
<path d="M465,242.8 L459.2,246 L465,249.4 Z" fill="#fff" stroke="#3a3a3a" stroke-width="0.3" />
<path d="M469.6,192 L486.7,192 L486.7,218 L482.4,222 L475,222 L469.6,218 Z" fill="url(#pI)" stroke="#3a3a3a" stroke-width="0.8" />
<circle cx="473.5" cy="197" r="0.9" fill="#fff" stroke="#3a3a3a" stroke-width="0.5" />
<circle cx="473.5" cy="203" r="0.9" fill="#fff" stroke="#3a3a3a" stroke-width="0.5" />
<circle cx="473.5" cy="209" r="0.9" fill="#fff" stroke="#3a3a3a" stroke-width="0.5" />
<circle cx="473.5" cy="215" r="0.9" fill="#fff" stroke="#3a3a3a" stroke-width="0.5" />
<circle cx="482.5" cy="195" r="0.9" fill="#fff" stroke="#3a3a3a" stroke-width="0.5" />
<circle cx="482.5" cy="201" r="0.9" fill="#fff" stroke="#3a3a3a" stroke-width="0.5" />
<circle cx="482.5" cy="207" r="0.9" fill="#fff" stroke="#3a3a3a" stroke-width="0.5" />
<circle cx="478.6" cy="218.2" r="2.2" fill="#fff" stroke="#3a3a3a" stroke-width="0.6" />
<rect x="224.8" y="335.2" width="52.8" height="21.2" fill="#fff" stroke="#555" stroke-width="1.2" />
<rect x="226.4" y="336.8" width="13.7" height="18" fill="url(#pT)" stroke="#3a3a3a" stroke-width="0" />
<rect x="254" y="336.8" width="15.2" height="18" fill="url(#pI)" stroke="#3a3a3a" stroke-width="0" />
<rect x="271.4" y="337.5" width="4.6" height="16.5" fill="url(#pI)" stroke="#3a3a3a" stroke-width="0" />
<rect x="240.1" y="337.3" width="13.9" height="14.9" fill="#fff" stroke="#3a3a3a" stroke-width="0.7" />
<rect x="269.3" y="337" width="2.1" height="17.6" fill="#c8c8c8" stroke="#3a3a3a" stroke-width="0.5" />
<circle cx="256.2" cy="339.6" r="0.9" fill="#fff" stroke="#3a3a3a" stroke-width="0.5" />
<circle cx="255.2" cy="350.6" r="0.9" fill="#fff" stroke="#3a3a3a" stroke-width="0.5" />
<circle cx="259.8" cy="339.6" r="0.9" fill="#fff" stroke="#3a3a3a" stroke-width="0.5" />
<circle cx="258.8" cy="350.6" r="0.9" fill="#fff" stroke="#3a3a3a" stroke-width="0.5" />
<circle cx="263.4" cy="339.6" r="0.9" fill="#fff" stroke="#3a3a3a" stroke-width="0.5" />
<circle cx="262.4" cy="350.6" r="0.9" fill="#fff" stroke="#3a3a3a" stroke-width="0.5" />
<circle cx="267" cy="339.6" r="0.9" fill="#fff" stroke="#3a3a3a" stroke-width="0.5" />
<circle cx="266" cy="350.6" r="0.9" fill="#fff" stroke="#3a3a3a" stroke-width="0.5" />
<path d="M226,355.2 L276.6,355.2" fill="none" stroke="#777" stroke-width="1" />
<circle cx="250.5" cy="384.4" r="17.6" fill="#fff" stroke="#3a3a3a" stroke-width="0.8" />
<circle cx="250.5" cy="384.4" r="16" fill="#fff" stroke="#3a3a3a" stroke-width="0.7" />
<clipPath id="cpT"><circle cx="250.5" cy="384.4" r="15.6"/></clipPath>
<g clip-path="url(#cpT)"><polygon points="232,382.4 242,382.4 246,402 232,402" fill="url(#pT)"/><polygon points="243.5,402 241.5,390 266,380.5 270,380.5 270,402" fill="url(#pI)"/><path d="M242,390 L244.5,401" stroke="#444" stroke-width="0.7"/></g>
<circle cx="250.6" cy="382.3" r="10.9" fill="#fff" stroke="#3a3a3a" stroke-width="0.8" />
<path d="M242.6,374 L261,391.8 M257.9,374.6 L242.6,390" fill="none" stroke="#3a3a3a" stroke-width="1.3" />
<path d="M379.2,312.4 L379.2,305.5 Q379.2,302.8 382.4,302.8 L389.4,302.8 Q392.6,302.8 392.6,305.5 L392.6,312.4 Z" fill="#fff" stroke="#3a3a3a" stroke-width="0.8" />
<rect x="377.4" y="312.4" width="17.2" height="8.2" fill="#fff" stroke="#3a3a3a" stroke-width="0.9" />
<rect x="383.2" y="320.6" width="6.6" height="5.4" fill="#fff" stroke="#3a3a3a" stroke-width="0.7" />
<rect x="371.2" y="326" width="17.4" height="4.2" fill="#fff" stroke="#3a3a3a" stroke-width="0.8" />
<path d="M376.6,330.2 L375.6,335.2 M369.6,335.6 L372.4,330.2" fill="none" stroke="#3a3a3a" stroke-width="0.7" />
<circle cx="372.8" cy="339.3" r="4.2" fill="#fff" stroke="#3a3a3a" stroke-width="0.8" />
<circle cx="372.8" cy="339.3" r="1.5" fill="#fff" stroke="#3a3a3a" stroke-width="0.7" />
<circle cx="387.6" cy="327.6" r="0.7" fill="#3a3a3a" stroke="#3a3a3a" stroke-width="0.4" />
<rect x="431.8" y="369.5" width="4.2" height="17" fill="#fff" stroke="#3a3a3a" stroke-width="0.5" stroke-dasharray="1.2 1"/>
<rect x="120.3" y="377.8" width="30.3" height="14.9" fill="#505050" stroke="#3a3a3a" stroke-width="0" />
<rect x="150.3" y="376.1" width="29.9" height="18" fill="#505050" stroke="#3a3a3a" stroke-width="0" />
<path d="M125.4,379.4 L149.6,379.2 L149.6,390.6 L125.4,390.4 Q124.4,385 125.4,379.4 Z" fill="#f4f4f4" stroke="#3a3a3a" stroke-width="0" />
<path d="M125.6,381.4 L146,380.8 L150,382 L158,382.6 L158,387.4 L150,388 L146,389.2 L125.6,388.6 Z" fill="#505050" stroke="#3a3a3a" stroke-width="0" />
<path d="M156.4,378.2 L166,378.2 L166,390.4 L156.4,390.4 L156.4,388 L158.4,387.4 L158.4,382.6 L156.4,382 Z" fill="#f8f8f8" stroke="#3a3a3a" stroke-width="0" />
<path d="M166.4,378.8 L178,378.8 M166.4,389.6 L178,389.6" fill="none" stroke="#bbb" stroke-width="0.6" stroke-dasharray="1.2 1.6"/>
<path d="M143.5,396 L143.5,389" fill="none" stroke="#3a3a3a" stroke-width="0.8" marker-end="url(#ah)"/>
</g>
<g id="lead">
<path d="M128,144.8 L122.7,166.8 L100.6,173.4" fill="none" stroke="#3a3a3a" stroke-width="1.25" marker-end="url(#ah)"/>
<path d="M439.6,143.4 L439.6,164" fill="none" stroke="#3a3a3a" stroke-width="0.9" marker-end="url(#ah)"/>
<path d="M504.2,171.5 L487.6,193.4" fill="none" stroke="#3a3a3a" stroke-width="1.25" marker-end="url(#ah)"/>
<path d="M269.6,202.4 L260.2,192.2" fill="none" stroke="#3a3a3a" stroke-width="1.25" marker-end="url(#ah)"/>
<path d="M243,225 L223.4,231.4" fill="none" stroke="#3a3a3a" stroke-width="1.25" marker-end="url(#ah)"/>
<path d="M159.2,244.6 L172.6,206.6" fill="none" stroke="#3a3a3a" stroke-width="1.25" marker-end="url(#ah)"/>
<path d="M172.6,206.6 L178,201.6" fill="none" stroke="#3a3a3a" stroke-width="0.8" />
<path d="M244,283 L261.4,267.2" fill="none" stroke="#3a3a3a" stroke-width="1.25" marker-end="url(#ah)"/>
<path d="M115.8,335.2 L106.2,356" fill="none" stroke="#3a3a3a" stroke-width="1.25" marker-end="url(#ah)"/>
<path d="M317.2,360.4 L319.2,349.8" fill="none" stroke="#3a3a3a" stroke-width="1.25" marker-end="url(#ah)"/>
<path d="M383.8,351.8 L383.8,331.6" fill="none" stroke="#3a3a3a" stroke-width="1.25" marker-end="url(#ah)"/>
<path d="M419.6,395.6 L431.8,384.6" fill="none" stroke="#3a3a3a" stroke-width="1.25" marker-end="url(#ah)"/>
<path d="M277.6,400.4 L266.4,392.8" fill="none" stroke="#3a3a3a" stroke-width="1.25" marker-end="url(#ah)"/>
<path d="M485,434.4 L506.8,423.2" fill="none" stroke="#3a3a3a" stroke-width="1.25" marker-end="url(#ah)"/>
</g>
<g id="text">
<text transform="translate(109.2,143.2) scale(0.716,1)" font-size="11.2" textLength="107.29" lengthAdjust="spacing">METERING VALVE</text>
<text transform="translate(425.8,129.5) scale(0.671,1)" font-size="11.2" textLength="72.53" lengthAdjust="spacing">GOVERNOR</text>
<text transform="translate(425.8,142) scale(0.745,1)" font-size="11.2" textLength="47.67" lengthAdjust="spacing">SPRING</text>
<text transform="translate(480.4,144.3) scale(0.722,1)" font-size="11.2" textLength="58.02" lengthAdjust="spacing">HOUSING</text>
<text transform="translate(480.4,156.6) scale(0.681,1)" font-size="11.2" textLength="68.4" lengthAdjust="spacing">PRESSURE</text>
<text transform="translate(480.4,169.1) scale(0.680,1)" font-size="11.2" textLength="76.22" lengthAdjust="spacing">REGULATOR</text>
<text transform="translate(272.6,195.4) scale(0.712,1)" font-size="11.2" textLength="68.84" lengthAdjust="spacing">VENT WIRE</text>
<text transform="translate(272.6,207.4) scale(0.741,1)" font-size="11.2" textLength="66.09" lengthAdjust="spacing">ASSEMBLY</text>
<text transform="translate(228.2,223.5) scale(0.686,1)" font-size="11.2" textLength="106.39" lengthAdjust="spacing">HEAD PRESSURE</text>
<text transform="translate(318.4,223.1) scale(0.745,1)" font-size="11.2" textLength="27.64" lengthAdjust="spacing">CAM</text>
<text transform="translate(318.8,235.9) scale(0.714,1)" font-size="11.2" textLength="31.08" lengthAdjust="spacing">RING</text>
<text transform="translate(104.1,256.2) scale(0.692,1)" font-size="11.2" textLength="138.84" lengthAdjust="spacing">TRANSFER PRESSURE</text>
<text transform="translate(104.1,268.6) scale(0.712,1)" font-size="11.2" textLength="97.64" lengthAdjust="spacing">TAP HOLE PLUG</text>
<text transform="translate(212.7,275.5) scale(0.681,1)" font-size="11.2" textLength="30.42" lengthAdjust="spacing">BALL</text>
<text transform="translate(212.7,288) scale(0.671,1)" font-size="11.2" textLength="43.52" lengthAdjust="spacing">CHECK</text>
<text transform="translate(212.7,300.7) scale(0.719,1)" font-size="11.2" textLength="66.09" lengthAdjust="spacing">ASSEMBLY</text>
<text transform="translate(282.3,286.8) scale(0.736,1)" font-size="11.2" textLength="133.99" lengthAdjust="spacing">AUTOMATIC ADVANCE</text>
<text transform="translate(302.7,299.1) scale(0.745,1)" font-size="11.2" textLength="75.97" lengthAdjust="spacing">MECHANISM</text>
<text transform="translate(438.9,280.7) scale(0.670,1)" font-size="11.2" textLength="72.53" lengthAdjust="spacing">GOVERNOR</text>
<text transform="translate(422,293.6) scale(0.709,1)" font-size="11.2" textLength="93.94" lengthAdjust="spacing">HOUSING LUBE</text>
<text transform="translate(108.8,320.9) scale(0.713,1)" font-size="11.2" textLength="67" lengthAdjust="spacing">CHARGING</text>
<text transform="translate(108.8,333.4) scale(0.721,1)" font-size="11.2" textLength="58.51" lengthAdjust="spacing">PASSAGE</text>
<text transform="translate(135.7,364.7) scale(0.647,1)" font-size="11.2" textLength="44.67" lengthAdjust="spacing">ROTOR</text>
<text transform="translate(119.4,406.5) scale(0.710,1)" font-size="11.2" textLength="61.27" lengthAdjust="spacing">DELIVERY</text>
<text transform="translate(126.9,418.6) scale(0.719,1)" font-size="11.2" textLength="38.25" lengthAdjust="spacing">VALVE</text>
<text transform="translate(308.9,371.6) scale(0.702,1)" font-size="11.2" textLength="41.91" lengthAdjust="spacing">FILTER</text>
<text transform="translate(368.9,363.8) scale(0.645,1)" font-size="11.2" textLength="31.79" lengthAdjust="spacing">FUEL</text>
<text transform="translate(368.9,376.1) scale(0.757,1)" font-size="11.2" textLength="35.92" lengthAdjust="spacing">PUMP</text>
<text transform="translate(438.8,382) scale(0.720,1)" font-size="11.2" textLength="66.77" lengthAdjust="spacing">FUEL TANK</text>
<text transform="translate(406,404.6) scale(0.673,1)" font-size="11.2" textLength="41.91" lengthAdjust="spacing">FILTER</text>
<text transform="translate(266.9,410.6) scale(0.711,1)" font-size="11.2" textLength="106.37" lengthAdjust="spacing">TRANSFER PUMP</text>
<text transform="translate(462.2,444.7) scale(0.699,1)" font-size="11.2" textLength="49.05" lengthAdjust="spacing">NOZZLE</text>
<text transform="translate(84.7,438.5) scale(0.744,1)" font-size="11.2" textLength="234.15" lengthAdjust="spacing">HIGH PRESSURE DISCHARGE CIRCUIT</text>
<text transform="translate(84.7,453.4) scale(0.730,1)" font-size="11.2" textLength="231.84" lengthAdjust="spacing">TRANSFER PUMP PRESSURE CIRCUIT</text>
<text transform="translate(84.7,468.1) scale(0.736,1)" font-size="11.2" textLength="183.72" lengthAdjust="spacing">HOUSING PRESSURE CIRCUIT</text>
<text transform="translate(84.7,482.8) scale(0.734,1)" font-size="11.2" textLength="268" lengthAdjust="spacing">INLET PRESSURE AND RETURN OIL CIRCUIT</text>
</g>
</svg>
<div class="t b" style="left:54.30px;top:522.90px;transform:scaleX(0.9902)">LUBRICATION SYSTEM (Fig. A-26)</div>
<div class="t j" style="left:70.40px;top:533.99px;width:205.05px;transform:scaleX(1.05)">The engine oil pan forms a reservoir for engine oil to</div>
<div class="t j" style="left:54.20px;top:545.09px;width:220.48px;transform:scaleX(1.05)">provide lubrication and also hydraulic fluid to operate the</div>
<div class="t j" style="left:54.20px;top:556.18px;width:220.48px;transform:scaleX(1.05)">valve lifters. Oil pressure for lubrication is furnished by a gear</div>
<div class="t j" style="left:54.20px;top:567.28px;width:220.48px;transform:scaleX(1.05)">type oil pump that is bolted to the rear main bearing cap and</div>
<div class="t j" style="left:54.20px;top:578.37px;width:220.48px;transform:scaleX(1.05)">driven by the camshaft gear through a hexagonal drive shaft.</div>
<div class="t j" style="left:54.20px;top:589.47px;width:220.48px;transform:scaleX(1.05)">The drive shaft is in the vacuum pump drive housing bolted</div>
<div class="t j" style="left:54.20px;top:600.56px;width:220.48px;transform:scaleX(1.05)">on the top rear of the engine. Do not start the engine with</div>
<div class="t" style="left:54.20px;top:611.66px;transform:scaleX(1.0729)">this part removed. (The oil pump will not turn.)</div>
<div class="t j" style="left:69.80px;top:622.75px;width:205.14px;transform:scaleX(1.05)">Oil enters the pump through a screened inlet located</div>
<div class="t j" style="left:53.70px;top:633.85px;width:220.48px;transform:scaleX(1.05)">near the bottom rear of the oil pan. The pressurized oil from</div>
<div class="t j" style="left:53.70px;top:644.94px;width:220.48px;transform:scaleX(1.05)">the pump passes through the oil filter located on the right</div>
<div class="t j" style="left:53.70px;top:656.04px;width:220.48px;transform:scaleX(1.05)">rear side of the engine block. (The oil filter base has a by-pass</div>
<div class="t j" style="left:53.70px;top:667.13px;width:220.48px;transform:scaleX(1.05)">valve which, in the event of filter restriction, will open at</div>
<div class="t j" style="left:53.40px;top:678.23px;width:220.76px;transform:scaleX(1.05)">5-1/2 to 6-1/2 psi.) Engine oil is directed to the oil cooler,</div>
<div class="t j" style="left:53.40px;top:689.32px;width:220.48px;transform:scaleX(1.05)">located in the radiator, then from the cooler to the filter</div>
<div class="t j" style="left:53.40px;top:700.42px;width:220.48px;transform:scaleX(1.05)">base. The oil then is directed back to the engine oil galleries.</div>
<div class="t j" style="left:53.20px;top:711.51px;width:220.67px;transform:scaleX(1.05)">A by-pass valve in the filter base allows continuous oil flow</div>
<div class="t j" style="left:53.20px;top:722.61px;width:220.67px;transform:scaleX(1.05)">to the engine in case of cooler line or cooler restriction. This</div>
<div class="t j" style="left:53.20px;top:733.70px;width:220.48px;transform:scaleX(1.05)">by-pass valve opens at about 12 psi. Oil then enters the right</div>
<div class="t j" style="left:306.60px;top:522.90px;width:221.52px;transform:scaleX(1.05)">oil gallery where it is distributed to the five main bearings.</div>
<div class="t j" style="left:306.60px;top:534.01px;width:221.52px;transform:scaleX(1.05)">The right bank valve lifters receive oil from this gallery from</div>
<div class="t" style="left:306.60px;top:545.12px;transform:scaleX(1.0731)">eight feed holes that intersect the gallery.</div>
<div class="t j" style="left:322.60px;top:556.23px;width:206.29px;transform:scaleX(1.05)">The five camshaft bearings are lubricated from vertical</div>
<div class="t j" style="left:306.60px;top:567.34px;width:221.52px;transform:scaleX(1.05)">passages intersecting the main bearing oil passages. At the</div>
<div class="t j" style="left:306.60px;top:578.45px;width:221.52px;transform:scaleX(1.05)">front main bearing a third passage connects the right main oil</div>
<div class="t j" style="left:306.60px;top:589.56px;width:221.52px;transform:scaleX(1.05)">gallery to the left gallery which then feeds the left bank of</div>
<div class="t" style="left:306.60px;top:600.67px;transform:scaleX(1.0325)">valve lifters.</div>
<div class="t j" style="left:322.60px;top:611.78px;width:206.29px;transform:scaleX(1.05)">The injection pump driven gear is lubricated by oil</div>
<div class="t j" style="left:306.60px;top:622.89px;width:221.52px;transform:scaleX(1.05)">directed through a passage from the top of the front</div>
<div class="t j" style="left:306.60px;top:634.00px;width:221.52px;transform:scaleX(1.05)">camshaft bearing. An angled passage in the shaft portion of</div>
<div class="t j" style="left:306.60px;top:645.11px;width:221.52px;transform:scaleX(1.05)">the driven gear then directs oil to the rear driven gear</div>
<div class="t" style="left:306.60px;top:656.22px;transform:scaleX(1.0262)">bearing.</div>
<div class="t j" style="left:322.40px;top:667.33px;width:206.48px;transform:scaleX(1.05)">The engine oil pressure warning light switch is connected</div>
<div class="t j" style="left:306.30px;top:678.44px;width:221.52px;transform:scaleX(1.05)">to the front of the left oil gallery. The switch is calibrated to</div>
<div class="t j" style="left:306.30px;top:689.55px;width:221.52px;transform:scaleX(1.05)">turn on the instrument panel warning light when engine oil</div>
<div class="t j" style="left:306.30px;top:700.66px;width:221.52px;transform:scaleX(1.05)">pressure is too low. The switch, normally closed, is set to</div>
<div class="t j" style="left:306.30px;top:711.77px;width:221.52px;transform:scaleX(1.05)">open at 2-6 psi. The rear oil gallery plug has a .040″ orifice</div>
<div class="t j" style="left:306.30px;top:722.88px;width:221.52px;transform:scaleX(1.05)">to help purge contaminants from the gallery and to lubricate</div>
<div class="t" style="left:306.30px;top:733.99px;transform:scaleX(1.0733)">the vacuum pump driven gear.</div>
<div class="t b" style="left:53.30px;top:58.26px;font-size:9.6px;word-spacing:1.7px;transform:scaleX(0.8826)">A-14  FUEL AND LUBRICATION SYSTEMS</div>
<div class="t b" style="left:231.80px;top:499.70px;transform:scaleX(1.0092)">Fig. A-25 –Fuel Injection System</div>
</body></html>
